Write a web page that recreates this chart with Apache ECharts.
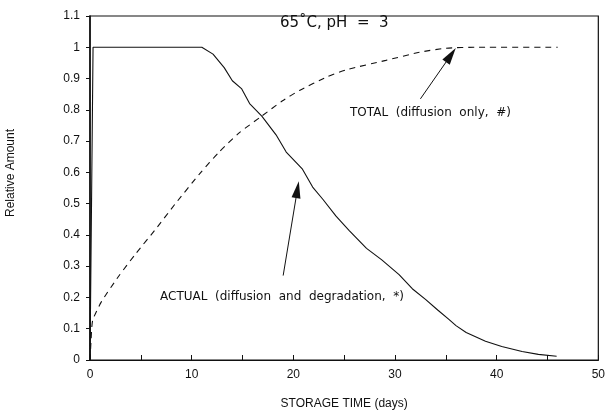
<!DOCTYPE html>
<html>
<head>
<meta charset="utf-8">
<style>
  html, body { margin: 0; padding: 0; background: #fff; }
  #chart { width: 608px; height: 415px; }
</style>
<script src="https://cdn.jsdelivr.net/npm/echarts@6/dist/echarts.min.js"></script>
</head>
<body>
<div id="chart"></div>
<script>
// ACTUAL (diffusion and degradation) - solid
var actualDays = [0, 0.3, 5, 11, 12.1, 13.2, 14.0, 14.9, 15.7, 16.9, 18.3, 19.3, 20.9, 21.9, 22.9, 24.2, 25.5, 27.2, 28.7, 30.4, 31.7, 33.0, 34.2, 35.3, 36.0, 37.0, 38.9, 40.5, 42.5, 44.1, 45.9];
var actualVals = [0, 1.0, 1.0, 1.0, 0.978, 0.935, 0.893, 0.868, 0.82, 0.78, 0.72, 0.665, 0.61, 0.553, 0.514, 0.46, 0.414, 0.357, 0.32, 0.273, 0.228, 0.194, 0.16, 0.13, 0.11, 0.088, 0.06, 0.043, 0.027, 0.018, 0.012];

// TOTAL (diffusion only) - dashed
var totalDays = [0, 0.1, 0.26, 1.1, 2.8, 4.5, 6.5, 8.4, 10.8, 12.7, 14.7, 16.9, 18.9, 20.6, 23.3, 25.2, 29.1, 32.4, 35.0, 38, 46];
var totalVals = [0, 0.06, 0.126, 0.185, 0.267, 0.34, 0.42, 0.50, 0.596, 0.665, 0.727, 0.78, 0.828, 0.862, 0.905, 0.928, 0.958, 0.984, 0.997, 1.0, 1.0];

var xTicks = [0, 10, 20, 30, 40, 50];
var yTicks = [0, 0.1, 0.2, 0.3, 0.4, 0.5, 0.6, 0.7, 0.8, 0.9, 1, 1.1];

// arrows: [tail, tip] in data units
var totalArrow = [[32.5, 0.835], [35.5, 0.975]];
var actualArrow = [[19.0, 0.27], [20.4, 0.545]];

function pairs(xs, ys) {
  return xs.map(function(x, i) { return [x, ys[i]]; });
}

var font = 'Liberation Sans, Arial, sans-serif';
var noteFont = 'DejaVu Sans, sans-serif';
var ink = '#111';

var chart = echarts.init(document.getElementById('chart'), null, { renderer: 'canvas' });
chart.setOption({
  animation: false,
  backgroundColor: '#fff',
  grid: {
    left: 90, right: 8, top: 16, bottom: 48,
    show: true, borderColor: ink, borderWidth: 1.2, backgroundColor: 'transparent'
  },
  xAxis: {
    type: 'value',
    min: xTicks[0], max: xTicks[xTicks.length - 1], interval: 10,
    name: 'STORAGE TIME (days)',
    nameLocation: 'middle', nameGap: 38,
    nameTextStyle: { color: ink, fontFamily: font, fontSize: 12 },
    axisLine: { lineStyle: { color: ink, width: 1.2 } },
    axisTick: { inside: true, length: 5, lineStyle: { color: ink } },
    minorTick: { show: true, splitNumber: 2, length: 5, lineStyle: { color: ink } },
    axisLabel: { color: ink, fontFamily: font, fontSize: 12, margin: 9 },
    splitLine: { show: false }
  },
  yAxis: {
    type: 'value',
    min: yTicks[0], max: yTicks[yTicks.length - 1], interval: 0.1,
    axisLine: { show: true, lineStyle: { color: ink, width: 1.6 } },
    axisTick: { show: true, inside: false, length: 4, lineStyle: { color: ink } },
    axisLabel: {
      color: ink, fontFamily: font, fontSize: 12, margin: 10,
      formatter: function(v) { return String(Math.round(v * 10) / 10); }
    },
    splitLine: { show: false }
  },
  graphic: [
    {
      type: 'text', left: 280, top: 16,
      style: { text: '65˚C, pH  =  3', fill: ink, font: '15px ' + noteFont }
    },
    {
      type: 'text', left: 350, top: 107,
      style: { text: 'TOTAL  (diffusion  only,  #)', fill: ink, font: '12px ' + noteFont }
    },
    {
      type: 'text', left: 160, top: 291,
      style: { text: 'ACTUAL  (diffusion  and  degradation,  *)', fill: ink, font: '12px ' + noteFont }
    },
    {
      type: 'text', x: 11, y: 173, rotation: Math.PI / 2,
      style: { text: 'Relative Amount', fill: ink, font: '12px ' + font, align: 'center', verticalAlign: 'middle' }
    }
  ],
  series: [
    {
      name: 'ACTUAL',
      type: 'line',
      data: pairs(actualDays, actualVals),
      showSymbol: false,
      lineStyle: { color: ink, width: 1.1 },
      markLine: {
        silent: true,
        symbol: ['none', 'triangle'],
        symbolSize: [9, 17],
        lineStyle: { color: ink, width: 1, type: 'solid' },
        label: { show: false },
        data: [[{ coord: actualArrow[0] }, { coord: actualArrow[1] }]]
      }
    },
    {
      name: 'TOTAL',
      type: 'line',
      data: pairs(totalDays, totalVals),
      showSymbol: false,
      smooth: 0.2,
      lineStyle: { color: ink, width: 1.1, type: [6, 5] },
      markLine: {
        silent: true,
        symbol: ['none', 'triangle'],
        symbolSize: [9, 17],
        lineStyle: { color: ink, width: 1, type: 'solid' },
        label: { show: false },
        data: [[{ coord: totalArrow[0] }, { coord: totalArrow[1] }]]
      }
    }
  ]
});
</script>
</body>
</html>
